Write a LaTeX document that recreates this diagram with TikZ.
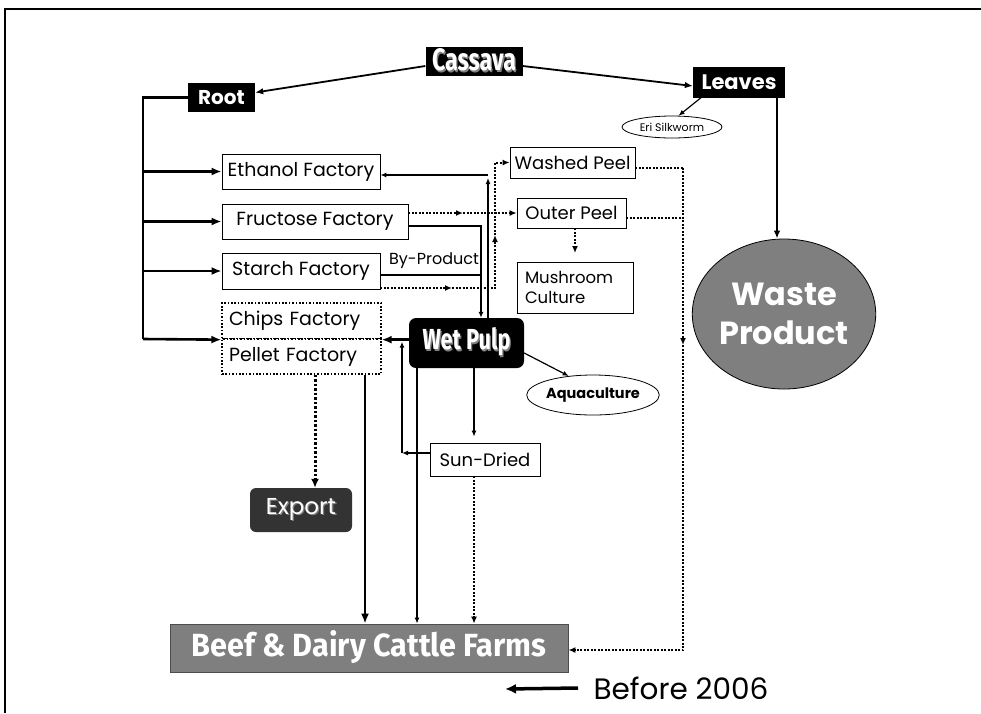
\documentclass[tikz,border=0pt]{standalone}
\usepackage{fontspec}
\setmainfont{Poppins}
\newfontfamily\heavyfont{Fira Sans}
\usepackage{graphicx}
\usetikzlibrary{arrows.meta,shapes.geometric}

% white lettering with a grey drop shadow
\newcommand\shadowtext[2]{\makebox[0pt][l]{\hspace{0.06em}\raisebox{-0.06em}{\textcolor{#1}{#2}}}\textcolor{white}{#2}}
% condensed heavy title lettering fitted to a given width and cap height
\newcommand\heavytitle[3]{\resizebox{#1}{#2}{\heavyfont\bfseries\shadowtext{gray}{#3}}}

\definecolor{fillgray}{HTML}{7F7F7F}
\definecolor{darkfill}{HTML}{333333}

\tikzset{
  box/.style={draw, line width=0.8pt, fill=white, inner sep=0pt, font=\fontsize{18}{21}\selectfont},
  factory/.style={box, font=\fontsize{19}{22}\selectfont},
  dotbox/.style={factory, line width=1.3pt, dash pattern=on 1.6pt off 1.8pt},
  blackbox/.style={fill=black, inner sep=0pt, text=white},
  conn/.style={line width=1.2pt, -{Latex[length=6pt,width=5pt]}},
  medconn/.style={line width=1.8pt, -{Latex[length=8pt,width=6.5pt]}},
  thickconn/.style={line width=2.6pt, -{Latex[length=10pt,width=8pt]}},
  dotline/.style={line width=2pt, dash pattern=on 2pt off 1.5pt},
  dotconn/.style={dotline, -{Latex[length=7pt,width=6pt]}},
  thickdot/.style={line width=3pt, dash pattern=on 2.5pt off 2pt, -{Latex[length=9pt,width=8pt]}},
}

\begin{document}
\begin{tikzpicture}[x=1pt, y=-1pt]
\useasboundingbox (0,0) rectangle (981,713);
% page frame
\draw[line width=2pt] (5,713) -- (5,9) -- (981,9);

% ---- top level
\node[blackbox, minimum width=97pt, minimum height=29pt] (cassava) at (474,61)
  {\heavytitle{84pt}{22pt}{Cassava}};
\node[blackbox, minimum width=67pt, minimum height=29pt, font=\fontsize{20}{22}\selectfont\bfseries] (root) at (221.5,97.5) {Root};
\node[blackbox, minimum width=92pt, minimum height=31pt, font=\fontsize{21}{23}\selectfont\bfseries] (leaves) at (739,82) {Leaves};
\node[draw, ellipse, line width=0.8pt, inner sep=0pt, minimum width=100pt, minimum height=22pt,
  font=\fontsize{11}{13}\selectfont] (eri) at (672,127) {Eri Silkworm};
\node[draw, ellipse, line width=0.8pt, fill=fillgray, inner sep=0pt, minimum width=172pt, minimum height=150pt,
  text=white, align=center, font=\fontsize{32}{39}\selectfont\bfseries] (waste) at (784,314) {Waste\\Product};

% ---- factories
\node[factory, minimum width=158pt, minimum height=35pt] (ethanol) at (301,171.5) {Ethanol Factory};
\node[factory, minimum width=186pt, minimum height=35pt] (fructose) at (315,221.5) {Fructose Factory};
\node[factory, minimum width=158pt, minimum height=36pt] (starch) at (301,271) {Starch Factory};
\node[dotbox, minimum height=36pt, text width=145pt, inner xsep=7pt, align=left] (chips) at (301.5,321) {Chips Factory};
\node[dotbox, minimum height=35pt, text width=145pt, inner xsep=7pt, align=left] (pellet) at (301.5,356.5) {Pellet Factory};

% ---- peel products
\node[box, minimum width=125pt, minimum height=31pt] (washed) at (572.5,162.5) {Washed Peel};
\node[box, minimum width=109pt, minimum height=30pt] (outer) at (571.5,213) {Outer Peel};
\node[box, minimum height=51pt, text width=100pt, inner xsep=8pt, align=left,
  font=\fontsize{16.5}{20}\selectfont] (mushroom) at (575,287.5) {Mushroom\\Culture};

% ---- pulp and its uses
\node[blackbox, rounded corners=7pt, minimum width=115pt, minimum height=50pt] (wetpulp) at (466.5,343)
  {\heavytitle{88pt}{22pt}{Wet Pulp}};
\node[draw, ellipse, line width=0.8pt, inner sep=0pt, minimum width=122pt, minimum height=40pt,
  font=\fontsize{14.5}{16}\selectfont\bfseries] (aqua) at (593,395) {Aquaculture};
\node[box, minimum width=110pt, minimum height=33pt] (sundried) at (485,459.5) {Sun-Dried};
\node[fill=darkfill, rounded corners=6pt, inner sep=0pt, minimum width=102pt, minimum height=44pt,
  font=\fontsize{23}{26}\selectfont] (export) at (301,510) {\shadowtext{gray}{Export}};
\node[draw=black!70, line width=0.8pt, fill=fillgray, inner sep=0pt, minimum width=398pt, minimum height=48pt] (beef)
  at (369,648) {\heavytitle{355pt}{26pt}{Beef \& Dairy Cattle Farms}};

\node[font=\fontsize{16}{19}\selectfont] (byp) at (434,261) {By-Product};

% ---- legend
\node[anchor=west, font=\fontsize{29.5}{33}\selectfont] (before) at (590,688) {Before 2006};
\coordinate (legTip) at (505,689);
\draw[line width=3.5pt, -{Latex[length=11pt,width=10pt]}] (before.west) ++(-12pt,0) -- (legTip);

% ---- routing points
\coordinate (trunkTop) at (143,97.5);
\coordinate (trunkBot) at (143,339);
\coordinate (ethR) at (488,175);
\coordinate (frR) at (481,226);
\coordinate (stR) at (481,275);
\coordinate (frArr) at (463,213);
\coordinate (stD) at (495,288);
\coordinate (stArr) at (452,288);
\coordinate (stUp) at (495,235);
\coordinate (peelR) at (683,167.5);
\coordinate (outR) at (683,218);
\coordinate (peelArr) at (683,345);
\coordinate (peelBot) at (683,650);
\coordinate (mushArr) at (575,253);
\coordinate (sdX) at (474,0);
\coordinate (sdL) at (402,453);
\coordinate (wpX) at (417,0);
\coordinate (peX) at (365,0);
\coordinate (exX) at (315,0);
\coordinate (wasteIn) at (777,0);

% ---- cassava split
\draw[medconn] ([yshift=-5pt]cassava.west) -- ([yshift=5pt]root.east);
\draw[medconn] ([yshift=-5pt]cassava.east) -- ([yshift=-4pt]leaves.west);
\draw[conn] ([xshift=-38pt]leaves.south) -- (eri.60);
\draw[medconn] (leaves.south -| wasteIn) -- (waste.north -| wasteIn);

% ---- root trunk to the factories
\draw[line width=2.6pt] (root.west) -- (trunkTop) -- (trunkBot);
\draw[thickconn] (trunkTop |- ethanol.west) -- (ethanol.west);
\draw[thickconn] (trunkTop |- fructose.west) -- (fructose.west);
\draw[thickconn] (trunkTop |- starch.west) -- (starch.west);
\draw[thickconn] (trunkBot) -- (chips.south west);

% ---- wet pulp flows
\draw[thickconn] (wetpulp.west |- chips.south east) -- (chips.south east);
\draw[conn] (wetpulp.north -| ethR) -- ([yshift=-3pt]ethR);
\draw[conn] (ethR) -- (ethanol.east |- ethR);
\draw[conn] (fructose.east |- frR) -- (frR) -- (wetpulp.north -| frR);
\draw[line width=1.2pt] (starch.east |- stR) -- (stR);
\draw[conn] ([yshift=-10pt]wetpulp.east) -- (aqua.142);
\draw[conn, shorten >=6pt] (wetpulp.south -| sdX) -- (sundried.north -| sdX);
\draw[conn] (sundried.west |- sdL) -- (sdL);
\draw[conn, shorten >=2pt] (sdL) -- (sdL |- chips.south);
\draw[conn] (wetpulp.south -| wpX) -- (beef.north -| wpX);
\draw[thickconn] (pellet.south -| peX) -- (beef.north -| peX);
\draw[dotconn] (sundried.south -| sdX) -- (beef.north -| sdX);
\draw[thickdot] (pellet.south -| exX) -- (export.north -| exX);

% ---- peel by-products
\draw[dotconn] (fructose.east |- frArr) -- (frArr);
\draw[dotconn] (frArr) -- (outer.west);
\draw[dotconn] (starch.east |- stD) -- (stArr);
\draw[dotconn] (stArr) -- (stD) -- (stUp);
\draw[dotconn] (stUp) -- (stD |- washed.west) -- (washed.west);
\draw[dotconn] (outer.south -| mushArr) -- (mushArr);
\draw[dotline] (washed.east |- peelR) -- (peelR);
\draw[dotline] (outer.east |- outR) -- (outR);
\draw[dotconn] (peelR) -- (peelArr);
\draw[dotconn] (peelArr) -- (peelBot) -- (beef.east |- peelBot);
\end{tikzpicture}
\end{document}
